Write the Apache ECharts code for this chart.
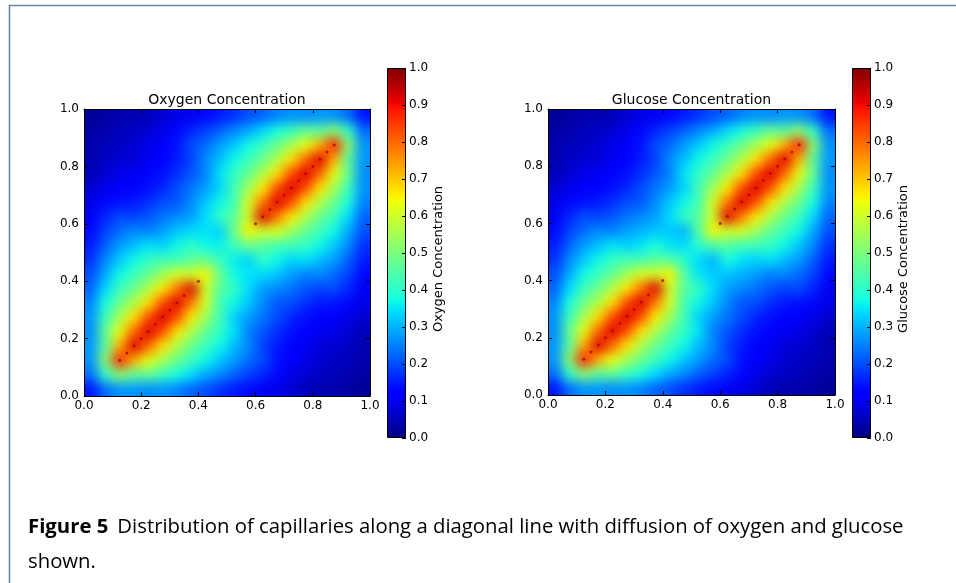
<!DOCTYPE html>
<html><head><meta charset="utf-8">
<script src="https://cdn.jsdelivr.net/npm/echarts@6/dist/echarts.min.js"></script>
<style>
html,body{margin:0;padding:0;background:#fff}
#wrap{position:relative;width:956px;height:583px;overflow:hidden}
#c{position:absolute;left:0;top:0;width:956px;height:583px;z-index:2}
.hm{position:absolute;z-index:1;filter:url(#smooth)}
</style>
</head><body>
<svg width="0" height="0" style="position:absolute">
 <defs>
  <filter id="smooth" x="0" y="0" width="1" height="1" color-interpolation-filters="sRGB">
   <feGaussianBlur stdDeviation="6"/>
   <feComponentTransfer><feFuncA type="table" tableValues="1 1"/></feComponentTransfer>
  </filter>
 </defs>
</svg>
<div id="wrap">
 <div id="h0" class="hm" style="left:84px;top:109px;width:286px;height:287px"></div>
 <div id="h1" class="hm" style="left:548px;top:109px;width:287px;height:286px"></div>
 <div id="c"></div>
</div>
<script>
// ---- data ----
const cellCenters = ['0.025','0.075','0.125','0.175','0.225','0.275','0.325','0.375','0.425','0.475','0.525','0.575','0.625','0.675','0.725','0.775','0.825','0.875','0.925','0.975'];
const colorbarRange = [0, 1];
const capillaryLower = [0.125,0.15,0.175,0.2,0.225,0.25,0.275,0.3,0.325,0.35,0.4];
const capillaryUpper = [0.6,0.625,0.65,0.675,0.7,0.725,0.75,0.775,0.8,0.825,0.85,0.875];
const titles = ['Oxygen Concentration', 'Glucose Concentration'];
const colorbarLabels = ['Oxygen Concentration', 'Glucose Concentration'];
const captionBold = 'Figure 5';
const captionRest = 'Distribution of capillaries along a diagonal line with diffusion of oxygen and glucose';
const captionLine2 = 'shown.';
// rows from y=0.025 (bottom) to y=0.975 (top); columns x=0.025..0.975
const oxygenGrid = [
[0.14,0.23,0.27,0.27,0.26,0.27,0.25,0.22,0.20,0.17,0.15,0.13,0.10,0.09,0.07,0.05,0.04,0.04,0.03,0.02],
[0.23,0.41,0.52,0.46,0.47,0.42,0.38,0.34,0.29,0.26,0.22,0.19,0.16,0.13,0.09,0.07,0.06,0.05,0.04,0.03],
[0.27,0.52,0.88,0.72,0.63,0.55,0.48,0.42,0.37,0.32,0.28,0.23,0.20,0.14,0.11,0.09,0.07,0.06,0.05,0.04],
[0.27,0.46,0.72,0.92,0.80,0.67,0.56,0.48,0.42,0.37,0.31,0.26,0.19,0.15,0.12,0.10,0.08,0.07,0.06,0.04],
[0.26,0.47,0.63,0.80,0.92,0.83,0.67,0.56,0.47,0.41,0.35,0.25,0.21,0.17,0.14,0.12,0.10,0.09,0.07,0.05],
[0.27,0.42,0.55,0.67,0.83,0.92,0.83,0.66,0.54,0.43,0.33,0.28,0.24,0.20,0.16,0.14,0.12,0.11,0.09,0.07],
[0.25,0.38,0.48,0.56,0.67,0.83,0.92,0.78,0.61,0.43,0.37,0.32,0.26,0.21,0.20,0.17,0.15,0.14,0.13,0.09],
[0.22,0.34,0.42,0.48,0.56,0.66,0.78,0.92,0.60,0.46,0.41,0.34,0.28,0.26,0.24,0.21,0.19,0.20,0.16,0.10],
[0.20,0.29,0.37,0.42,0.47,0.54,0.61,0.60,0.65,0.48,0.37,0.35,0.34,0.32,0.28,0.25,0.26,0.23,0.19,0.13],
[0.17,0.26,0.32,0.37,0.41,0.43,0.43,0.46,0.48,0.42,0.36,0.33,0.41,0.37,0.33,0.35,0.31,0.28,0.22,0.15],
[0.15,0.22,0.28,0.31,0.35,0.33,0.37,0.41,0.37,0.36,0.42,0.48,0.46,0.43,0.43,0.41,0.37,0.32,0.26,0.17],
[0.13,0.19,0.23,0.26,0.25,0.28,0.32,0.34,0.35,0.33,0.48,0.65,0.60,0.61,0.54,0.47,0.42,0.37,0.29,0.20],
[0.10,0.16,0.20,0.19,0.21,0.24,0.26,0.28,0.34,0.41,0.46,0.60,0.92,0.78,0.66,0.56,0.48,0.42,0.34,0.22],
[0.09,0.13,0.14,0.15,0.17,0.20,0.21,0.26,0.32,0.37,0.43,0.61,0.78,0.92,0.83,0.67,0.56,0.48,0.38,0.25],
[0.07,0.09,0.11,0.12,0.14,0.16,0.20,0.24,0.28,0.33,0.43,0.54,0.66,0.83,0.92,0.83,0.67,0.55,0.42,0.27],
[0.05,0.07,0.09,0.10,0.12,0.14,0.17,0.21,0.25,0.35,0.41,0.47,0.56,0.67,0.83,0.92,0.80,0.63,0.47,0.26],
[0.04,0.06,0.07,0.08,0.10,0.12,0.15,0.19,0.26,0.31,0.37,0.42,0.48,0.56,0.67,0.80,0.92,0.72,0.46,0.27],
[0.04,0.05,0.06,0.07,0.09,0.11,0.14,0.20,0.23,0.28,0.32,0.37,0.42,0.48,0.55,0.63,0.72,0.88,0.52,0.27],
[0.03,0.04,0.05,0.06,0.07,0.09,0.13,0.16,0.19,0.22,0.26,0.29,0.34,0.38,0.42,0.47,0.46,0.52,0.41,0.23],
[0.02,0.03,0.04,0.04,0.05,0.07,0.09,0.10,0.13,0.15,0.17,0.20,0.22,0.25,0.27,0.26,0.27,0.27,0.23,0.14]
];
const glucoseGrid = [
[0.14,0.23,0.27,0.27,0.26,0.27,0.25,0.22,0.20,0.17,0.15,0.13,0.10,0.09,0.07,0.05,0.04,0.04,0.03,0.02],
[0.23,0.41,0.52,0.46,0.47,0.42,0.38,0.34,0.29,0.26,0.22,0.19,0.16,0.13,0.09,0.07,0.06,0.05,0.04,0.03],
[0.27,0.52,0.88,0.72,0.63,0.55,0.48,0.42,0.37,0.32,0.28,0.23,0.20,0.14,0.11,0.09,0.07,0.06,0.05,0.04],
[0.27,0.46,0.72,0.92,0.80,0.67,0.56,0.48,0.42,0.37,0.31,0.26,0.19,0.15,0.12,0.10,0.08,0.07,0.06,0.04],
[0.26,0.47,0.63,0.80,0.92,0.83,0.67,0.56,0.47,0.41,0.35,0.25,0.21,0.17,0.14,0.12,0.10,0.09,0.07,0.05],
[0.27,0.42,0.55,0.67,0.83,0.92,0.83,0.66,0.54,0.43,0.33,0.28,0.24,0.20,0.16,0.14,0.12,0.11,0.09,0.07],
[0.25,0.38,0.48,0.56,0.67,0.83,0.92,0.78,0.61,0.43,0.37,0.32,0.26,0.21,0.20,0.17,0.15,0.14,0.13,0.09],
[0.22,0.34,0.42,0.48,0.56,0.66,0.78,0.92,0.60,0.46,0.41,0.34,0.28,0.26,0.24,0.21,0.19,0.20,0.16,0.10],
[0.20,0.29,0.37,0.42,0.47,0.54,0.61,0.60,0.65,0.45,0.35,0.32,0.32,0.30,0.28,0.25,0.26,0.23,0.19,0.13],
[0.17,0.26,0.32,0.37,0.41,0.43,0.43,0.46,0.45,0.40,0.34,0.30,0.38,0.35,0.33,0.35,0.31,0.28,0.22,0.15],
[0.15,0.22,0.28,0.31,0.35,0.33,0.35,0.38,0.35,0.34,0.40,0.45,0.46,0.43,0.43,0.41,0.37,0.32,0.26,0.17],
[0.13,0.19,0.23,0.26,0.25,0.28,0.30,0.32,0.32,0.30,0.45,0.65,0.60,0.61,0.54,0.47,0.42,0.37,0.29,0.20],
[0.10,0.16,0.20,0.19,0.21,0.24,0.26,0.28,0.34,0.41,0.46,0.60,0.92,0.78,0.66,0.56,0.48,0.42,0.34,0.22],
[0.09,0.13,0.14,0.15,0.17,0.20,0.21,0.26,0.32,0.37,0.43,0.61,0.78,0.92,0.83,0.67,0.56,0.48,0.38,0.25],
[0.07,0.09,0.11,0.12,0.14,0.16,0.20,0.24,0.28,0.33,0.43,0.54,0.66,0.83,0.92,0.83,0.67,0.55,0.42,0.27],
[0.05,0.07,0.09,0.10,0.12,0.14,0.17,0.21,0.25,0.35,0.41,0.47,0.56,0.67,0.83,0.92,0.80,0.63,0.47,0.26],
[0.04,0.06,0.07,0.08,0.10,0.12,0.15,0.19,0.26,0.31,0.37,0.42,0.48,0.56,0.67,0.80,0.92,0.72,0.46,0.27],
[0.04,0.05,0.06,0.07,0.09,0.11,0.14,0.20,0.23,0.28,0.32,0.37,0.42,0.48,0.55,0.63,0.72,0.88,0.52,0.27],
[0.03,0.04,0.05,0.06,0.07,0.09,0.13,0.16,0.19,0.22,0.26,0.29,0.34,0.38,0.42,0.47,0.46,0.52,0.41,0.23],
[0.02,0.03,0.04,0.04,0.05,0.07,0.09,0.10,0.13,0.15,0.17,0.20,0.22,0.25,0.27,0.26,0.27,0.27,0.23,0.14]
];

// ---- jet colormap (matplotlib segment data) ----
function seg(v, pts){ for(let k=1;k<pts.length;k++){ if(v<=pts[k][0]){ const a=pts[k-1], b=pts[k]; return a[1]+(b[1]-a[1])*(v-a[0])/(b[0]-a[0]); } } return pts[pts.length-1][1]; }
function jet(v){
  const r=seg(v,[[0,0],[0.35,0],[0.66,1],[0.89,1],[1,0.5]]);
  const g=seg(v,[[0,0],[0.125,0],[0.375,1],[0.64,1],[0.91,0],[1,0]]);
  const b=seg(v,[[0,0.5],[0.11,1],[0.34,1],[0.65,0],[1,0]]);
  return 'rgb('+Math.round(r*255)+','+Math.round(g*255)+','+Math.round(b*255)+')';
}
const jetColors=[]; const jetStops=[];
for(let k=0;k<=100;k++){ jetColors.push(jet(k/100)); jetStops.push({offset:k/100, color:jet(k/100)}); }

const FONT='DejaVu Sans';
const plots=[
  {grid:{left:84,top:109,width:286,height:287}, cbar:{left:387,top:68,width:19,height:370}, rows:oxygenGrid, el:'h0'},
  {grid:{left:548,top:109,width:287,height:286}, cbar:{left:852,top:68,width:19,height:370}, rows:glucoseGrid, el:'h1'}
];

// heatmap layers (one per panel, smoothed by the CSS filter)
plots.forEach(p=>{
  const data=[];
  p.rows.forEach((row,j)=>row.forEach((v,i)=>data.push([i,j,v])));
  const hc=echarts.init(document.getElementById(p.el),null,{renderer:'canvas'});
  hc.setOption({
    animation:false,
    grid:{left:0,top:0,right:0,bottom:0,containLabel:false},
    xAxis:{type:'category',data:cellCenters,show:false},
    yAxis:{type:'category',data:cellCenters,show:false},
    visualMap:{type:'continuous',show:false,min:0,max:1,inRange:{color:jetColors}},
    series:[{type:'heatmap',data:data,emphasis:{disabled:true},progressive:0}]
  });
});

const fmt=v=>Number(v).toFixed(1);
const grids=[], xAxes=[], yAxes=[], series=[], graphics=[];
plots.forEach(p=>grids.push(Object.assign({containLabel:false},p.grid)));
plots.forEach(p=>grids.push(Object.assign({containLabel:false},p.cbar)));
const lineBlack={show:true,onZero:false,lineStyle:{color:'#000',width:1}};
const tickIn={show:true,inside:true,length:4,lineStyle:{color:'#000'}};
plots.forEach((p,pi)=>{
  xAxes.push({gridIndex:pi,type:'value',min:0,max:1,interval:0.2,position:'bottom',z:10,axisLine:lineBlack,axisTick:tickIn,
    axisLabel:{show:true,margin:4,fontSize:12,color:'#000',fontFamily:FONT,formatter:fmt},splitLine:{show:false}});
  xAxes.push({gridIndex:pi,type:'value',min:0,max:1,interval:0.2,position:'top',z:10,axisLine:lineBlack,axisTick:tickIn,
    axisLabel:{show:false},splitLine:{show:false}});
  yAxes.push({gridIndex:pi,type:'value',min:0,max:1,interval:0.2,position:'left',z:10,axisLine:lineBlack,axisTick:tickIn,
    axisLabel:{show:true,margin:5,fontSize:12,color:'#000',fontFamily:FONT,formatter:fmt},splitLine:{show:false}});
  yAxes.push({gridIndex:pi,type:'value',min:0,max:1,interval:0.2,position:'right',z:10,axisLine:lineBlack,axisTick:tickIn,
    axisLabel:{show:false},splitLine:{show:false}});
});
plots.forEach((p,pi)=>{
  xAxes.push({gridIndex:2+pi,type:'category',data:['cb'],show:false});
  yAxes.push({gridIndex:2+pi,type:'value',min:colorbarRange[0],max:colorbarRange[1],interval:0.1,position:'right',z:10,
    axisLine:{show:false},axisTick:tickIn,
    axisLabel:{show:true,margin:3,fontSize:12,color:'#000',fontFamily:FONT,formatter:fmt},splitLine:{show:false}});
});
plots.forEach((p,pi)=>{
  const pts=capillaryLower.concat(capillaryUpper).map(v=>[v,v]);
  series.push({type:'scatter',xAxisIndex:2*pi,yAxisIndex:2*pi,data:pts,symbol:'circle',symbolSize:3,
    itemStyle:{color:'#b00000'},silent:true,z:5});
});
plots.forEach((p,pi)=>{
  series.push({type:'bar',xAxisIndex:4+pi,yAxisIndex:4+pi,data:[colorbarRange[1]],barWidth:'100%',silent:true,
    itemStyle:{color:{type:'linear',x:0,y:1,x2:0,y2:0,colorStops:jetStops},borderColor:'#000',borderWidth:1}});
});
plots.forEach((p,pi)=>{
  graphics.push({type:'text',x:p.grid.left+p.grid.width/2,y:100,style:{text:titles[pi],fontSize:14,fontFamily:FONT,fill:'#000',textAlign:'center',textVerticalAlign:'middle'}});
  graphics.push({type:'text',x:p.cbar.left+p.cbar.width+33,y:259,rotation:Math.PI/2,
    style:{text:colorbarLabels[pi],fontSize:13,fontFamily:FONT,fill:'#000',textAlign:'center',textVerticalAlign:'middle'}});
});
graphics.push({type:'polyline',shape:{points:[[9.5,583],[9.5,5.5],[956,5.5]]},style:{stroke:'#6b86ae',lineWidth:1.6,fill:null}});
const capFont='Open Sans';
const cv=document.createElement('canvas').getContext('2d');
cv.font='bold 100px "'+capFont+'"'; const wb=cv.measureText(captionBold).width;
cv.font='100px "'+capFont+'"'; const wn=cv.measureText(captionRest).width;
const capSize=(876-9)/((wb+wn)/100);
const bw=wb*capSize/100;
graphics.push({type:'text',x:28,y:537,style:{text:captionBold,fontSize:capSize,fontWeight:'bold',fontFamily:capFont,fill:'#000',textVerticalAlign:'bottom'}});
graphics.push({type:'text',x:28+bw+9,y:537,style:{text:captionRest,fontSize:capSize,fontFamily:capFont,fill:'#000',textVerticalAlign:'bottom'}});
graphics.push({type:'text',x:28,y:572,style:{text:captionLine2,fontSize:capSize,fontFamily:capFont,fill:'#000',textVerticalAlign:'bottom'}});

const chart=echarts.init(document.getElementById('c'),null,{renderer:'canvas'});
chart.setOption({
  animation:false,
  backgroundColor:'transparent',
  textStyle:{fontFamily:FONT},
  grid:grids, xAxis:xAxes, yAxis:yAxes,
  series:series,
  graphic:graphics
});
</script></body></html>
